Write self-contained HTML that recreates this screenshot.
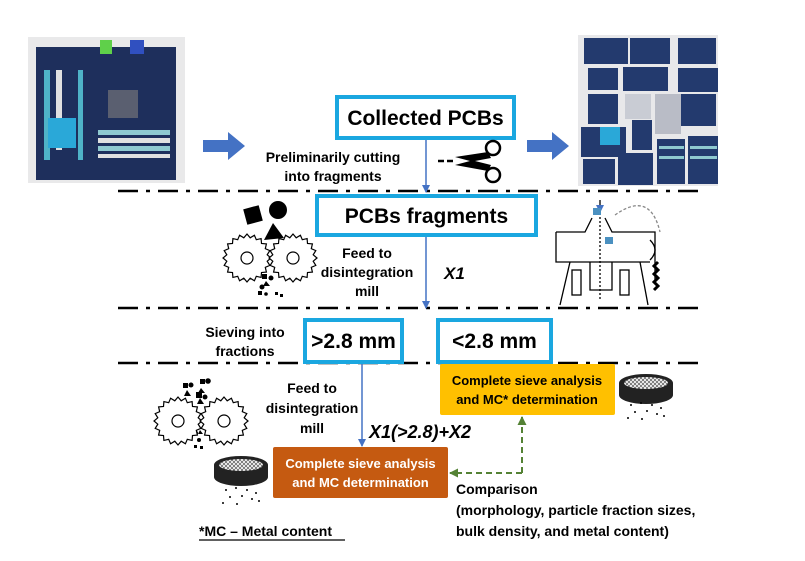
<!DOCTYPE html>
<html><head><meta charset="utf-8"><style>
html,body{margin:0;padding:0;background:#fff;}
svg{display:block;font-family:"Liberation Sans",sans-serif;}
</style></head><body>
<svg id="s" width="805" height="561" viewBox="0 0 805 561" xmlns="http://www.w3.org/2000/svg">
<defs>
<marker id="ab" markerWidth="8" markerHeight="8" refX="7" refY="4" orient="auto" markerUnits="userSpaceOnUse"><path d="M0,0 L8,4 L0,8 z" fill="#4472C4"/></marker>
<marker id="ag" markerWidth="9" markerHeight="9" refX="8" refY="4.5" orient="auto" markerUnits="userSpaceOnUse"><path d="M0,0 L9,4.5 L0,9 z" fill="#548235"/></marker>
<pattern id="mesh" width="4" height="4" patternUnits="userSpaceOnUse"><path d="M0,0 L4,4 M4,0 L0,4" stroke="#fff" stroke-width="0.8"/></pattern>
</defs>

<!-- left photo -->
<rect x="28" y="37" width="157" height="146" fill="#e9e9ea"/>
<rect x="36" y="47" width="140" height="133" fill="#1e2f5c"/>
<rect x="44" y="70" width="6" height="90" fill="#4fb3c8"/>
<rect x="56" y="70" width="6" height="80" fill="#e0e0e0"/>
<rect x="78" y="70" width="5" height="90" fill="#4fb3c8"/>
<rect x="48" y="118" width="28" height="30" fill="#2aa8d8"/>
<rect x="98" y="130" width="72" height="5" fill="#8fc9d0"/>
<rect x="98" y="138" width="72" height="5" fill="#e0e0e0"/>
<rect x="98" y="146" width="72" height="5" fill="#8fc9d0"/>
<rect x="98" y="154" width="72" height="4" fill="#e0e0e0"/>
<rect x="108" y="90" width="30" height="28" fill="#5a5f70"/>
<rect x="100" y="40" width="12" height="14" fill="#5fd04a"/>
<rect x="130" y="40" width="14" height="14" fill="#3050c0"/>
<!-- right photo -->
<rect x="578" y="35" width="140" height="151" fill="#e8e8ea"/>
<g fill="#233a6e">
<rect x="584" y="38" width="44" height="26"/><rect x="630" y="38" width="40" height="26"/><rect x="678" y="38" width="38" height="26"/>
<rect x="588" y="68" width="30" height="22"/><rect x="623" y="67" width="45" height="24"/><rect x="678" y="68" width="40" height="24"/>
<rect x="588" y="94" width="30" height="30"/><rect x="672" y="94" width="44" height="32"/>
<rect x="581" y="127" width="45" height="30"/><rect x="632" y="120" width="20" height="30"/>
<rect x="583" y="159" width="32" height="25"/><rect x="618" y="153" width="35" height="32"/>
<rect x="657" y="139" width="28" height="45"/><rect x="688" y="136" width="30" height="48"/>
</g>
<rect x="625" y="94" width="26" height="25" fill="#c9ccd4"/><rect x="655" y="94" width="26" height="40" fill="#b9bcc6"/>
<rect x="600" y="127" width="20" height="18" fill="#2aa8d8"/>
<g fill="#8fc9d0"><rect x="659" y="146" width="25" height="3"/><rect x="659" y="156" width="25" height="3"/><rect x="690" y="146" width="27" height="3"/><rect x="690" y="156" width="27" height="3"/></g>

<!-- blue arrows -->
<path d="M203,140 H228 V132 L245,146 L228,160 V152 H203 z" fill="#4472C4"/>
<path d="M527,140 H552 V132 L569,146 L552,160 V152 H527 z" fill="#4472C4"/>

<!-- dash-dot lines -->
<g stroke="#000" stroke-width="2.5" stroke-dasharray="20,8,4,8">
<line x1="118" y1="191" x2="706" y2="191"/>
<line x1="118" y1="308" x2="706" y2="308"/>
<line x1="118" y1="363" x2="706" y2="363"/>
</g>

<!-- boxes -->
<rect x="337" y="97" width="177" height="41" fill="#fff" stroke="#1aa7e0" stroke-width="4"/>
<text x="425.5" y="125" font-size="21" font-weight="bold" text-anchor="middle">Collected PCBs</text>
<rect x="317" y="196" width="219" height="39" fill="#fff" stroke="#1aa7e0" stroke-width="4"/>
<text x="426.5" y="223" font-size="21" font-weight="bold" text-anchor="middle">PCBs fragments</text>
<rect x="305" y="320" width="97" height="42" fill="#fff" stroke="#1aa7e0" stroke-width="4"/>
<text x="353.5" y="348" font-size="21" font-weight="bold" text-anchor="middle">&gt;2.8 mm</text>
<rect x="438" y="320" width="113" height="42" fill="#fff" stroke="#1aa7e0" stroke-width="4"/>
<text x="494.5" y="348" font-size="21" font-weight="bold" text-anchor="middle">&lt;2.8 mm</text>

<rect x="440" y="364" width="175" height="51" rx="2" fill="#FFC000"/>
<text x="527" y="385" font-size="13" font-weight="bold" text-anchor="middle">Complete sieve analysis</text>
<text x="527" y="404" font-size="13" font-weight="bold" text-anchor="middle">and MC* determination</text>
<rect x="273" y="447" width="175" height="51" rx="2" fill="#C55A11"/>
<text x="360.5" y="468" font-size="13" font-weight="bold" fill="#fff" text-anchor="middle">Complete sieve analysis</text>
<text x="360.5" y="487" font-size="13" font-weight="bold" fill="#fff" text-anchor="middle">and MC determination</text>

<!-- connectors -->
<g stroke="#4472C4" stroke-width="1.5" fill="none">
<line x1="426" y1="140" x2="426" y2="192" marker-end="url(#ab)"/>
<line x1="426" y1="237" x2="426" y2="308" marker-end="url(#ab)"/>
<line x1="362" y1="364" x2="362" y2="446" marker-end="url(#ab)"/>
</g>
<path d="M522,473 H450" stroke="#548235" stroke-width="2" stroke-dasharray="6,4" fill="none" marker-end="url(#ag)"/>
<path d="M522,473 V417" stroke="#548235" stroke-width="2" stroke-dasharray="6,4" fill="none" marker-end="url(#ag)"/>

<!-- texts -->
<g font-size="14" font-weight="bold" text-anchor="middle">
<text x="333" y="162">Preliminarily cutting</text>
<text x="333" y="181">into fragments</text>
<text x="367" y="258">Feed to</text>
<text x="367" y="277">disintegration</text>
<text x="367" y="296">mill</text>
<text x="245" y="337">Sieving into</text>
<text x="245" y="356">fractions</text>
<text x="312" y="393">Feed to</text>
<text x="312" y="413">disintegration</text>
<text x="312" y="433">mill</text>
</g>
<text x="444" y="279" font-size="17" font-weight="bold" font-style="italic">X1</text>
<text x="369" y="438" font-size="18" font-weight="bold" font-style="italic">X1(&gt;2.8)+X2</text>
<g font-size="14" font-weight="bold">
<text x="456" y="494">Comparison</text>
<text x="456" y="515">(morphology, particle fraction sizes,</text>
<text x="456" y="536">bulk density, and metal content)</text>
<text x="199" y="536">*MC – Metal content</text>
</g>
<line x1="199" y1="540" x2="345" y2="540" stroke="#000" stroke-width="1.3"/>

<!-- scissors -->
<g stroke="#000" stroke-width="2.5" fill="none">
<line x1="438" y1="161" x2="444" y2="161"/><line x1="447" y1="161" x2="453" y2="161"/>
<circle cx="493" cy="148" r="7"/><circle cx="493" cy="175" r="7"/>
</g>
<path d="M455,157 L488,152 L491,158 L475,161 L491,165 L488,171 L455,165 L470,161 z" fill="#000"/>

<!-- upper fragments -->
<rect x="245" y="207" width="16" height="16" fill="#000" transform="rotate(-15 253 215)"/>
<circle cx="278" cy="210" r="9" fill="#000"/>
<path d="M273,223 L284,238 L264,240 z" fill="#000"/>
<g fill="#000"><rect x="262" y="274" width="5" height="5"/><circle cx="271" cy="278" r="2.5"/><path d="M266,281 l4,5 h-7z"/><circle cx="262" cy="287" r="2.5"/><rect x="258" y="291" width="4" height="4"/><rect x="275" y="292" width="3" height="3"/><rect x="280" y="294" width="3" height="3"/><circle cx="266" cy="294" r="1.8"/></g>
<!-- lower fragments -->
<g fill="#000"><rect x="183" y="383" width="5" height="5"/><circle cx="191" cy="385" r="2.5"/><rect x="200" y="379" width="5" height="5"/><circle cx="208" cy="381" r="2.8"/><path d="M187,390 l4,6 h-7z"/><rect x="196" y="392" width="6" height="6"/><circle cx="205" cy="397" r="2.5"/><path d="M200,398 l4,6 h-7z"/><path d="M201,388 l4,5 h-7z"/><circle cx="199" cy="440" r="2"/><rect x="194" y="445" width="3" height="3"/><rect x="200" y="446" width="3" height="3"/><circle cx="196" cy="433" r="2"/><path d="M200,430 l3,4 h-5z"/></g>

<g id="gears" fill="#fff" stroke="#000" stroke-width="1.2"></g>

<!-- sieves -->
<g transform="translate(4,-6)">
<ellipse cx="237" cy="483" rx="27" ry="9" fill="#222"/>
<rect x="210" y="471" width="54" height="12" fill="#222"/>
<ellipse cx="237" cy="471" rx="27" ry="9" fill="#222"/>
<ellipse cx="237" cy="471" rx="22" ry="6" fill="#666"/>
<ellipse cx="237" cy="471" rx="22" ry="6" fill="url(#mesh)"/>
</g>
<g transform="translate(409,-88)">
<ellipse cx="237" cy="483" rx="27" ry="9" fill="#222"/>
<rect x="210" y="471" width="54" height="12" fill="#222"/>
<ellipse cx="237" cy="471" rx="27" ry="9" fill="#222"/>
<ellipse cx="237" cy="471" rx="22" ry="6" fill="#666"/>
<ellipse cx="237" cy="471" rx="22" ry="6" fill="url(#mesh)"/>
</g>
<g fill="#000">
<circle cx="226" cy="490" r="1"/><circle cx="236" cy="488" r="1"/><circle cx="247" cy="490" r="1"/><circle cx="256" cy="493" r="1"/><circle cx="230" cy="497" r="1"/><circle cx="242" cy="496" r="1"/><circle cx="252" cy="499" r="1"/><circle cx="223" cy="503" r="1"/><circle cx="237" cy="504" r="1"/><circle cx="259" cy="501" r="1"/>
<circle cx="631" cy="405" r="1"/><circle cx="641" cy="403" r="1"/><circle cx="652" cy="405" r="1"/><circle cx="661" cy="408" r="1"/><circle cx="635" cy="412" r="1"/><circle cx="647" cy="411" r="1"/><circle cx="657" cy="414" r="1"/><circle cx="628" cy="418" r="1"/><circle cx="642" cy="419" r="1"/><circle cx="664" cy="416" r="1"/>
</g>

<!-- mill drawing -->
<g stroke="#000" stroke-width="1.3" fill="none">
<path d="M556,232 H585 L592,218 M605,218 L612,232 H655 V280"/>
<path d="M556,232 V262 H650"/>
<path d="M570,262 L560,305 M640,262 L648,305"/>
<rect x="572" y="270" width="9" height="25"/><rect x="620" y="270" width="9" height="25"/>
<path d="M590,262 V290 H612 V262"/>
<line x1="600" y1="205" x2="600" y2="300" stroke-dasharray="2,2"/>
<path d="M600,200 V212" marker-end="url(#ab)"/>
<path d="M615,215 Q650,190 660,232" stroke-dasharray="3,2" stroke="#888"/>
<path d="M650,240 q10,10 0,20"/>
</g>
<rect x="593" y="208" width="8" height="7" fill="#4a90c0"/>
<rect x="605" y="237" width="8" height="7" fill="#4a90c0"/>
<path d="M658,262 l-4,4 4,4 -4,4 4,4 -4,4 4,4 -4,4" stroke="#000" stroke-width="3" fill="none"/>
</svg>
<script>
function gear(cx,cy,r){var n=20,p=[];for(var i=0;i<n*2;i++){var a=i*Math.PI/n;var rr=i%2?r-2.5:r+1;p.push((cx+rr*Math.cos(a)).toFixed(1)+','+(cy+rr*Math.sin(a)).toFixed(1));}return '<polygon points="'+p.join(' ')+'"/><circle cx="'+cx+'" cy="'+cy+'" r="6"/>';}
document.getElementById('gears').innerHTML=gear(247,258,23)+gear(293,258,23)+gear(178,421,23)+gear(224,421,23);
</script>
</body></html>
